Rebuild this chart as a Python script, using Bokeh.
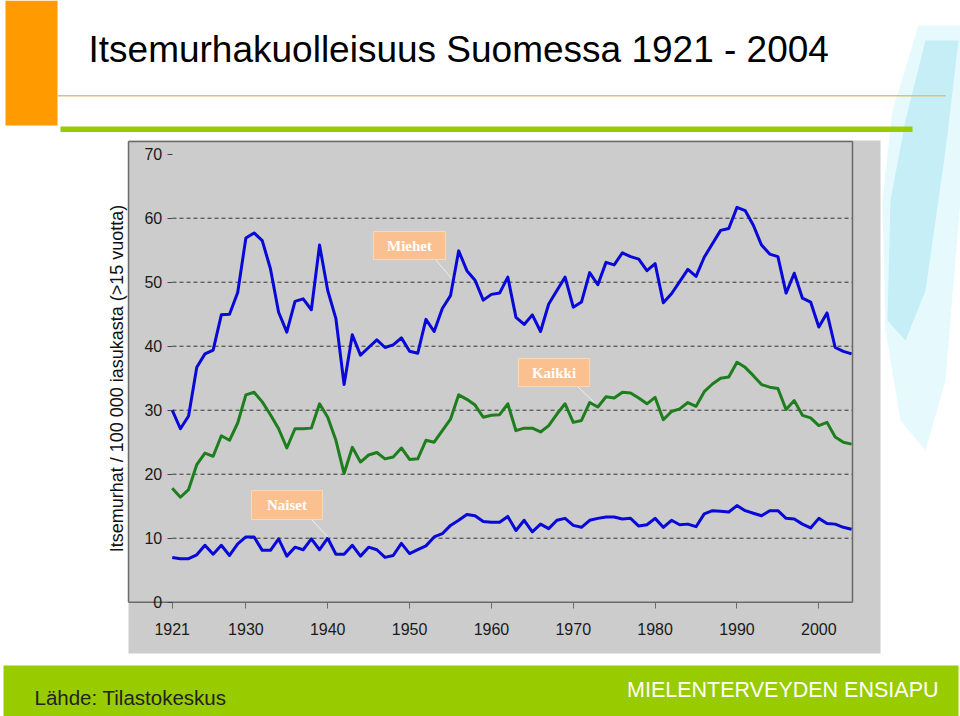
import math
from bokeh.plotting import figure
from bokeh.models import Range1d, FixedTicker
from bokeh.core.properties import value
from bokeh.embed import file_html
from bokeh.resources import INLINE

# ---------------- data ----------------
YEARS = list(range(1921, 2005))

MIEHET = [30.0, 27.1, 29.1, 36.7, 38.8, 39.4, 44.9, 45.0, 48.4, 56.9,
          57.7, 56.5, 52.1, 45.3, 42.2, 47.0, 47.4, 45.7, 55.8, 48.7,
          44.3, 34.0, 41.8, 38.6, 39.8, 41.0, 39.8, 40.2, 41.3, 39.2,
          38.9, 44.2, 42.3, 45.9, 47.9, 54.9, 51.8, 50.3, 47.2, 48.1,
          48.3, 50.8, 44.5, 43.4, 44.9, 42.3, 46.6, 48.7, 50.8, 46.1,
          46.9, 51.5, 49.6, 53.1, 52.7, 54.6, 54.0, 53.6, 51.8, 52.9,
          46.8, 48.2, 50.1, 52.0, 50.9, 53.9, 56.0, 58.1, 58.4, 61.7,
          61.2, 58.9, 55.8, 54.4, 54.0, 48.3, 51.4, 47.5, 46.9, 43.0,
          45.2, 39.8, 39.2, 38.8]

KAIKKI = [17.8, 16.4, 17.6, 21.5, 23.3, 22.8, 26.0, 25.3, 28.0, 32.4,
          32.8, 31.3, 29.3, 27.1, 24.1, 27.1, 27.1, 27.2, 31.0, 28.9,
          25.3, 20.1, 24.2, 21.9, 23.0, 23.4, 22.4, 22.7, 24.1, 22.3,
          22.4, 25.3, 25.0, 26.8, 28.6, 32.4, 31.7, 30.8, 28.9, 29.2,
          29.3, 31.0, 26.8, 27.2, 27.2, 26.6, 27.6, 29.4, 31.0, 28.1,
          28.4, 31.2, 30.5, 32.1, 31.9, 32.8, 32.7, 31.9, 31.0, 32.0,
          28.5, 29.8, 30.2, 31.2, 30.6, 32.9, 34.1, 35.0, 35.2, 37.5,
          36.7, 35.4, 34.0, 33.6, 33.4, 30.1, 31.5, 29.2, 28.8, 27.6,
          28.1, 25.8, 25.0, 24.7]

NAISET = [7.0, 6.8, 6.8, 7.4, 8.9, 7.5, 8.9, 7.3, 9.1, 10.2,
          10.2, 8.1, 8.1, 9.9, 7.2, 8.6, 8.2, 9.9, 8.2, 10.0,
          7.5, 7.5, 8.9, 7.2, 8.6, 8.2, 7.0, 7.3, 9.2, 7.6,
          8.2, 8.8, 10.2, 10.7, 12.0, 12.8, 13.7, 13.5, 12.6, 12.5,
          12.5, 13.4, 11.2, 12.8, 11.0, 12.2, 11.5, 12.8, 13.1, 12.0,
          11.7, 12.8, 13.1, 13.3, 13.3, 13.0, 13.1, 11.9, 12.1, 13.1,
          11.7, 12.8, 12.1, 12.2, 11.8, 13.8, 14.3, 14.2, 14.1, 15.1,
          14.3, 13.9, 13.5, 14.3, 14.3, 13.1, 13.0, 12.2, 11.6, 13.1,
          12.3, 12.2, 11.7, 11.4]

XTICKS = [1921, 1930, 1940, 1950, 1960, 1970, 1980, 1990, 2000]
YTICKS = [0, 10, 20, 30, 40, 50, 60, 70]
GRIDLINES = [10, 20, 30, 40, 50, 60]
SERIES_LABELS = ["Miehet", "Kaikki", "Naiset"]

TITLE = "Itsemurhakuolleisuus Suomessa 1921 - 2004"
YLABEL = "Itsemurhat / 100 000 iasukasta (>15 vuotta)"
SOURCE = "Lähde: Tilastokeskus"
BRAND = "MIELENTERVEYDEN ENSIAPU"

# ---------------- styles ----------------
BLUE = "#0808D8"
GREEN = "#1E7E1E"
CHART_GRAY = "#CCCCCC"
FRAME = "#6A6A6A"
PEACH = "#FAC090"
LIME = "#99CC00"
ORANGE = "#FF9A00"
FONT = "Liberation Sans"

# The whole slide is one plot frame; years/values map onto the chart area,
# "px"/"py" ranges map onto page pixels for the slide decorations.
p = figure(width=960, height=716,
           x_range=Range1d(1900.02, 2017.31), y_range=Range1d(-17.86, 94.02),
           output_backend="svg", toolbar_location=None, min_border=0)
p.extra_x_ranges = {"px": Range1d(0, 960)}
p.extra_y_ranges = {"py": Range1d(716, 0)}
p.background_fill_color = "white"
p.border_fill_color = "white"
p.outline_line_color = None
p.xgrid.visible = False
p.ygrid.visible = False

xa = p.xaxis[0]
xa.fixed_location = 0
xa.ticker = FixedTicker(ticks=XTICKS)
xa.axis_line_color = None
xa.major_tick_out = 6
xa.major_tick_in = 0
xa.minor_tick_out = 0
xa.minor_tick_in = 0
xa.major_tick_line_color = FRAME
xa.major_label_text_font = FONT
xa.major_label_text_font_size = "16px"
xa.major_label_text_color = "#1A1A1A"
xa.major_label_standoff = 15

ya = p.yaxis[0]
ya.fixed_location = YEARS[0]
ya.ticker = FixedTicker(ticks=YTICKS)
ya.axis_line_color = None
ya.major_tick_out = 5
ya.major_tick_in = 0
ya.minor_tick_out = 0
ya.minor_tick_in = 0
ya.major_tick_line_color = "#444444"
ya.major_label_text_font = FONT
ya.major_label_text_font_size = "16px"
ya.major_label_text_color = "#1A1A1A"
ya.major_label_standoff = 5

# soft watercolour splash at the right edge of the slide
p.patch(x=[918, 960, 960, 945, 925, 900, 885, 882, 892],
        y=[25, 25, 200, 380, 450, 420, 330, 200, 110],
        x_range_name="px", y_range_name="py",
        fill_color="#C8F1F8", fill_alpha=0.45, line_color=None)
p.patch(x=[925, 958, 945, 925, 905, 887, 890, 905],
        y=[40, 40, 150, 290, 340, 320, 200, 120],
        x_range_name="px", y_range_name="py",
        fill_color="#A3E4F1", fill_alpha=0.5, line_color=None)

# chart background panel
p.quad(left=[128], right=[880], top=[140], bottom=[653],
       x_range_name="px", y_range_name="py",
       fill_color=CHART_GRAY, line_color=None)

# dashed gridlines (from the y axis to the right edge of the plot area)
p.segment(x0=[172] * len(GRIDLINES), x1=[852] * len(GRIDLINES),
          y0=GRIDLINES, y1=GRIDLINES, x_range_name="px",
          line_color="#333333", line_width=1, line_dash="4 3")

# plot-area border
p.segment(x0=[128, 128, 852, 128], y0=[141, 141, 141, 601.7],
          x1=[128, 852, 852, 852], y1=[601.7, 141, 601.7, 601.7],
          x_range_name="px", y_range_name="py",
          line_color=FRAME, line_width=1.5)

# series
p.line(YEARS, MIEHET, line_color=BLUE, line_width=3, line_join="round")
p.line(YEARS, KAIKKI, line_color=GREEN, line_width=3, line_join="round")
p.line(YEARS, NAISET, line_color=BLUE, line_width=3, line_join="round")

# callout labels
box_l = [373, 518, 251]
box_r = [445, 589, 322]
box_t = [231, 358, 490]
box_b = [259, 386, 519]
p.segment(x0=[435, 577, 311], y0=[259, 386, 519],
          x1=[451, 594, 328], y1=[278, 402, 537],
          x_range_name="px", y_range_name="py",
          line_color="#EEEEEE", line_width=1)
p.quad(left=box_l, right=box_r, top=box_t, bottom=box_b,
       x_range_name="px", y_range_name="py",
       fill_color=PEACH, line_color="#FCD9B6", line_width=1)
p.text(x=[(a + b) / 2 for a, b in zip(box_l, box_r)],
       y=[(a + b) / 2 for a, b in zip(box_t, box_b)],
       text=SERIES_LABELS, x_range_name="px", y_range_name="py",
       text_align="center", text_baseline="middle",
       text_font=value("Liberation Serif"), text_font_style="bold",
       text_font_size="15px", text_color="white")

# y-axis title
p.text(x=[116], y=[378], text=[YLABEL], angle=math.pi / 2,
       x_range_name="px", y_range_name="py",
       text_align="center", text_baseline="middle",
       text_font=value(FONT), text_font_size="18px", text_color="#111111")

# slide decorations
p.quad(left=[5, 57, 60, 3], right=[57, 945, 912, 958],
       top=[0, 94.5, 126, 665], bottom=[125, 96, 131.5, 716],
       x_range_name="px", y_range_name="py",
       fill_color=[ORANGE, "#E3BE7A", LIME, LIME], line_color=None)

p.text(x=[88], y=[49], text=[TITLE], x_range_name="px", y_range_name="py",
       text_align="left", text_baseline="middle",
       text_font=value(FONT), text_font_size="37px", text_color="#000000")
p.text(x=[34], y=[697], text=[SOURCE], x_range_name="px", y_range_name="py",
       text_align="left", text_baseline="middle",
       text_font=value(FONT), text_font_size="20.5px", text_color="#222222")
p.text(x=[938], y=[689], text=[BRAND], x_range_name="px", y_range_name="py",
       text_align="right", text_baseline="middle",
       text_font=value(FONT), text_font_size="21.5px", text_color="white")

open("out.html", "w").write(file_html(p, INLINE))
